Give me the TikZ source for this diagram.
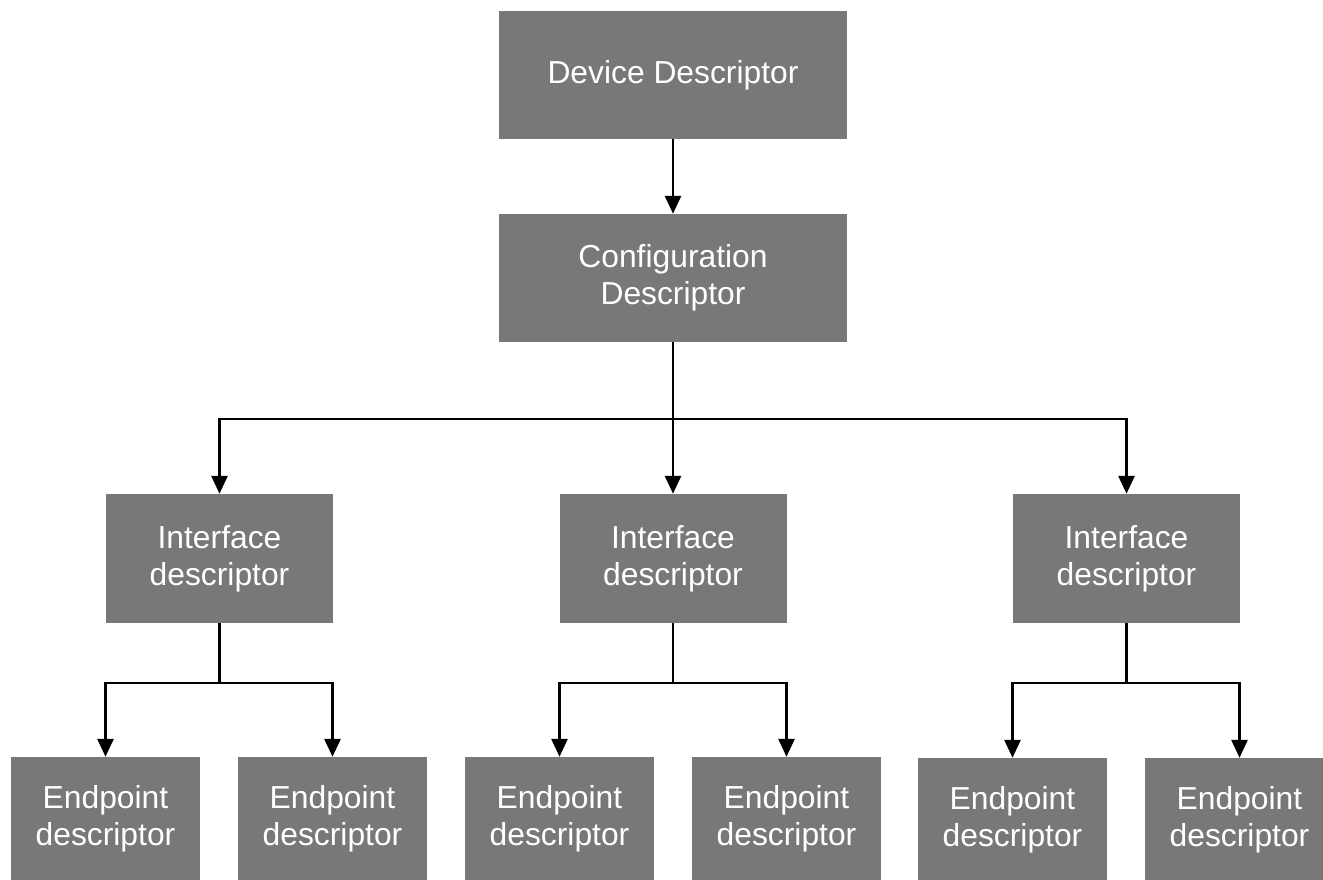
\documentclass[tikz,border=0pt]{standalone}
\usepackage{fontspec}
\setmainfont{Liberation Sans}
\usetikzlibrary{arrows.meta}
\definecolor{boxgray}{RGB}{122,119,120}
\tikzset{
  box/.style={rectangle, fill=boxgray, draw=none, inner sep=0pt, text=white, align=center,
    font=\fontsize{31.8}{37}\selectfont},
  topbox/.style={box, minimum width=348pt, minimum height=128pt},
  ifbox/.style={box, minimum width=227pt, minimum height=129pt},
  epbox/.style={box, minimum width=189pt, minimum height=123pt},
  conn/.style={line width=2.8pt, black, line join=miter},
  arr/.style={conn, -{Triangle[length=18pt,width=16pt]}}
}
\begin{document}
\begin{tikzpicture}[x=1pt,y=-1pt]
\useasboundingbox (0,0) rectangle (1323,880);
\clip (0,0) rectangle (1323,880);
\fill[white] (0,0) rectangle (1323,880);

\node[topbox] (dev) at (673,75) {Device Descriptor};
\node[topbox] (cfg) at (673,278) {Configuration\\Descriptor};

\node[ifbox] (i1) at (219.5,558.5) {Interface\\descriptor};
\node[ifbox] (i2) at (673,558.5) {Interface\\descriptor};
\node[ifbox] (i3) at (1126.5,558.5) {Interface\\descriptor};

\node[epbox] (e1) at (105.5,818.5) {Endpoint\\descriptor};
\node[epbox] (e2) at (332.5,818.5) {Endpoint\\descriptor};
\node[epbox] (e3) at (559.5,818.5) {Endpoint\\descriptor};
\node[epbox] (e4) at (786.5,818.5) {Endpoint\\descriptor};
\node[epbox] (e5) at (1012.5,819.5) {Endpoint\\descriptor};
\node[epbox] (e6) at (1239.5,819.5) {Endpoint\\descriptor};

\coordinate (cj) at (673,419);
\coordinate (j1) at (219.5,683);
\coordinate (j2) at (673,683);
\coordinate (j3) at (1126.5,683);

\draw[arr] (dev.south) -- (cfg.north);
\draw[conn] (cfg.south) -- (cj);
\draw[arr] (cj) -| (i1.north);
\draw[arr] (cj) -- (i2.north);
\draw[arr] (cj) -| (i3.north);

\draw[conn] (i1.south) -- (j1);
\draw[arr] (j1) -| (e1.north);
\draw[arr] (j1) -| (e2.north);
\draw[conn] (i2.south) -- (j2);
\draw[arr] (j2) -| (e3.north);
\draw[arr] (j2) -| (e4.north);
\draw[conn] (i3.south) -- (j3);
\draw[arr] (j3) -| (e5.north);
\draw[arr] (j3) -| (e6.north);
\end{tikzpicture}
\end{document}
